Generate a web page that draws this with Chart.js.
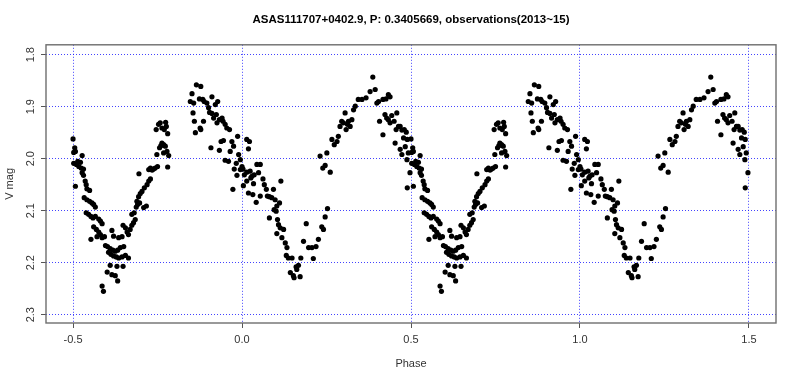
<!DOCTYPE html>
<html><head><meta charset="utf-8">
<script src="https://cdn.jsdelivr.net/npm/chart.js@4.4.1/dist/chart.umd.min.js"></script>
<style>html,body{margin:0;padding:0;background:#fff}#wrap{width:800px;height:381px}</style>
</head><body><div id="wrap"><canvas id="c" width="800" height="381"></canvas></div>
<script>
const titleText = "ASAS111707+0402.9, P: 0.3405669, observations(2013~15)";
const xTicks = [-0.5, 0, 0.5, 1, 1.5];
const yTicks = [1.8, 1.9, 2.0, 2.1, 2.2, 2.3];
const cycleOffsets = [0, 1];
const phase = [
-0.500,-0.495,-0.493,-0.498,-0.473,-0.498,-0.490,-0.483,-0.476,-0.469,
-0.486,-0.478,-0.493,-0.473,-0.469,-0.464,-0.461,-0.451,-0.459,-0.467,
-0.459,-0.451,-0.444,-0.439,-0.434,-0.461,-0.454,-0.447,-0.441,-0.434,
-0.424,-0.419,-0.414,-0.439,-0.431,-0.424,-0.419,-0.447,-0.429,-0.414,
-0.407,-0.404,-0.398,-0.390,-0.382,-0.375,-0.368,-0.360,-0.350,-0.395,
-0.388,-0.380,-0.372,-0.365,-0.355,-0.345,-0.336,-0.390,-0.370,-0.352,
-0.399,-0.385,-0.375,-0.368,-0.414,-0.410,-0.385,-0.380,-0.365,-0.355,
-0.352,-0.345,-0.340,-0.336,-0.331,-0.326,-0.321,-0.316,-0.326,-0.319,
-0.313,-0.309,-0.303,-0.311,-0.306,-0.301,-0.296,-0.289,-0.281,-0.276,
-0.271,-0.283,-0.291,-0.305,-0.276,-0.271,-0.266,-0.262,-0.257,-0.250,
-0.220,-0.252,-0.244,-0.240,-0.237,-0.232,-0.227,-0.222,-0.217,-0.232,
-0.254,-0.247,-0.242,-0.237,-0.230,-0.224,-0.220,-0.226,-0.135,-0.122,
-0.148,-0.153,-0.143,-0.126,-0.116,-0.112,-0.104,-0.089,-0.079,-0.072,
-0.145,-0.141,-0.138,-0.124,-0.122,-0.114,-0.099,-0.096,-0.089,-0.084,
-0.076,-0.074,-0.067,-0.059,-0.056,-0.050,-0.045,-0.037,-0.092,-0.067,
-0.062,-0.055,-0.050,-0.040,-0.035,-0.030,-0.025,-0.013,-0.010,-0.017,
-0.005,0.000,0.014,0.019,0.022,-0.023,-0.015,-0.005,0.003,0.007,
0.014,0.024,0.029,0.036,0.044,0.054,-0.027,0.004,0.014,0.026,
0.034,0.049,0.019,0.032,0.042,0.054,0.062,0.066,0.072,0.075,
0.081,0.088,0.093,0.098,0.103,0.111,0.115,0.095,0.101,0.081,
0.105,0.108,0.103,0.113,0.123,0.118,0.128,0.133,0.131,0.137,
0.148,0.143,0.152,0.162,0.167,0.172,0.154,0.160,0.174,0.182,
0.190,0.197,0.207,0.211,0.219,0.226,0.236,0.241,0.246,0.253,
0.231,0.239,0.246,0.261,0.251,0.266,0.273,0.281,0.285,0.290,
0.295,0.300,0.305,0.308,0.312,0.315,0.320,0.325,0.330,0.335,
0.344,0.355,0.367,0.379,0.387,0.394,0.399,0.404,0.407,0.417,
0.426,0.433,0.438,0.417,0.423,0.428,0.433,0.438,0.443,0.450,
0.458,0.463,0.456,0.468,0.473,0.480,0.486,0.489,0.478,0.453,
0.468,0.473,0.483,0.488,0.492,0.497,0.489
];
const vmag = [
1.962,1.979,1.986,1.988,1.994,2.009,2.011,2.015,2.018,2.020,
2.005,2.007,2.053,2.027,2.032,2.043,2.050,2.061,2.058,2.075,
2.079,2.082,2.085,2.088,2.093,2.104,2.107,2.111,2.114,2.111,
2.116,2.120,2.125,2.131,2.136,2.141,2.146,2.155,2.150,2.152,
2.150,2.167,2.169,2.173,2.176,2.178,2.176,2.171,2.169,2.180,
2.184,2.187,2.189,2.191,2.189,2.186,2.191,2.205,2.207,2.207,
2.218,2.223,2.225,2.235,2.245,2.255,2.138,2.149,2.152,2.150,
2.128,2.133,2.141,2.146,2.136,2.128,2.123,2.117,2.107,2.104,
2.093,2.088,2.085,2.082,2.073,2.067,2.063,2.056,2.050,2.043,
2.039,2.091,2.094,2.029,2.021,2.018,2.022,2.020,2.018,2.015,
2.016,1.992,1.979,1.975,1.970,1.973,1.976,1.986,1.994,1.989,
1.944,1.934,1.931,1.941,1.944,1.938,1.952,1.930,1.858,1.861,
1.875,1.890,1.893,1.885,1.886,1.890,1.893,1.881,1.896,1.890,
1.912,1.928,1.950,1.941,1.944,1.928,1.902,1.911,1.913,1.922,
1.915,1.931,1.925,1.922,1.928,1.934,1.941,1.944,1.979,1.984,
1.967,1.965,2.003,2.005,1.986,1.967,1.976,1.957,1.992,2.009,
2.002,2.015,1.963,1.981,1.967,2.020,2.032,2.021,2.020,2.031,
2.026,2.024,2.034,2.031,2.011,2.011,2.059,2.052,2.043,2.037,
2.048,2.027,2.066,2.069,2.084,2.072,2.039,2.050,2.059,2.072,
2.073,2.075,2.059,2.079,2.091,2.085,2.043,2.098,2.101,2.114,
2.117,2.127,2.144,2.133,2.136,2.152,2.162,2.171,2.186,2.191,
2.191,2.219,2.225,2.213,2.205,2.227,2.229,2.208,2.191,2.159,
2.125,2.171,2.171,2.192,2.169,2.155,2.131,2.136,2.112,2.096,
1.995,2.018,2.013,2.026,1.989,1.963,1.973,1.967,1.957,1.938,
1.928,1.931,1.912,1.944,1.934,1.928,1.938,1.925,1.906,1.899,
1.886,1.886,1.883,1.871,1.843,1.867,1.893,1.890,1.928,1.886,
1.885,1.877,1.881,1.954,1.915,1.922,1.925,1.931,1.917,1.928,
1.912,1.938,1.944,1.938,1.945,1.944,1.949,1.963,1.960,1.970,
1.982,1.992,1.977,2.002,1.989,2.027,2.056
];

const points = [];
cycleOffsets.forEach(off => phase.forEach((p, i) => points.push({ x: p + off, y: vmag[i] })));

const FONT = '"Liberation Sans", Arial, sans-serif';

const framePlugin = {
  id: 'frame',
  afterDraw(chart) {
    const { ctx, chartArea: a, scales: { y } } = chart;
    ctx.save();
    ctx.strokeStyle = '#6e6e6e';
    ctx.lineWidth = 1.4;
    ctx.strokeRect(a.left, a.top, a.right - a.left, a.bottom - a.top);
    ctx.fillStyle = '#333';
    ctx.font = '11px ' + FONT;
    ctx.textAlign = 'center';
    ctx.textBaseline = 'middle';
    yTicks.forEach(v => {
      const py = y.getPixelForValue(v);
      ctx.save();
      ctx.translate(a.left - 15, py);
      ctx.rotate(-Math.PI / 2);
      ctx.fillText(v.toFixed(1), 0, 0);
      ctx.restore();
    });
    ctx.restore();
  }
};

const gridCommon = {
  color: 'rgba(20,20,255,0.8)',
  lineWidth: 1,
  drawTicks: true,
  tickLength: 5,
  tickColor: '#555',
  tickWidth: 1,
  tickBorderDash: [0, 0]
};
const borderCommon = { display: false, dash: [1, 2], dashOffset: 0 };

new Chart(document.getElementById('c'), {
  type: 'scatter',
  data: {
    datasets: [{
      data: points,
      pointRadius: 2.6,
      pointHoverRadius: 2.6,
      pointBackgroundColor: '#000',
      pointBorderWidth: 0,
      showLine: false
    }]
  },
  options: {
    responsive: false,
    devicePixelRatio: 1,
    animation: false,
    layout: { padding: { left: 0, right: 24, top: 0, bottom: 0 } },
    plugins: {
      legend: { display: false },
      tooltip: { enabled: false },
      title: {
        display: true,
        text: titleText,
        color: '#000',
        fullSize: false,
        font: { family: FONT, size: 11.5, weight: 'bold' },
        padding: { top: 13, bottom: 18 }
      }
    },
    scales: {
      x: {
        type: 'linear',
        min: -0.58,
        max: 1.58,
        border: borderCommon,
        grid: gridCommon,
        afterBuildTicks: s => { s.ticks = xTicks.map(v => ({ value: v })); },
        afterFit: s => { s.height = 58; },
        ticks: {
          color: '#333',
          font: { family: FONT, size: 11 },
          padding: 5,
          maxRotation: 0,
          callback: v => Number(v).toFixed(1)
        },
        title: {
          display: true,
          text: 'Phase',
          color: '#333',
          font: { family: FONT, size: 11 },
          padding: { top: 0, bottom: 10 }
        }
      },
      y: {
        type: 'linear',
        reverse: true,
        min: 1.781,
        max: 2.316,
        border: borderCommon,
        grid: gridCommon,
        afterBuildTicks: s => { s.ticks = yTicks.map(v => ({ value: v })); },
        afterFit: s => { s.width = 46; },
        ticks: { display: false },
        title: {
          display: true,
          text: 'V mag',
          color: '#333',
          font: { family: FONT, size: 11 },
          padding: { top: 3, bottom: 0 }
        }
      }
    }
  },
  plugins: [framePlugin]
});
</script>
</body></html>
